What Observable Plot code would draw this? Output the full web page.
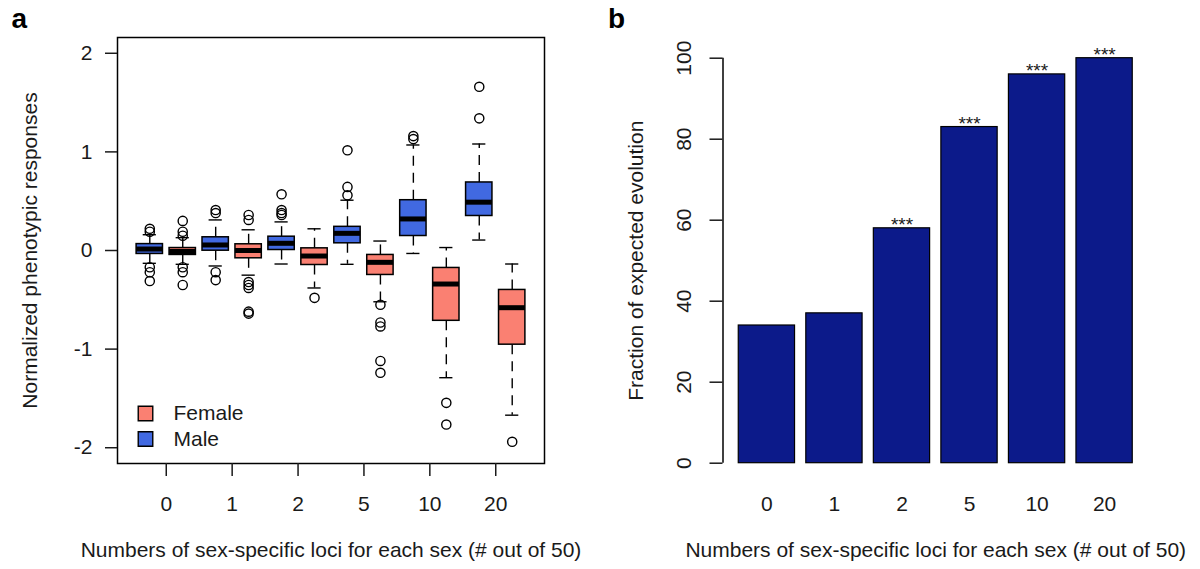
<!DOCTYPE html>
<html><head><meta charset="utf-8">
<script src="https://cdn.jsdelivr.net/npm/d3@7"></script>
<script src="https://cdn.jsdelivr.net/npm/@observablehq/plot@0.6"></script>
<style>
body{margin:0;background:#fff;}
#wrap{display:flex;width:1200px;height:569px;overflow:hidden;}
#wrap svg{flex:none;}
</style></head><body><div id="wrap"></div>
<script>
// ---------- Panel a data (box-plot summary statistics) ----------
const groups = ["0", "1", "2", "5", "10", "20"];
const sexes = ["Male", "Female"];
const boxGroup = ["0","0","1","1","2","2","5","5","10","10","20","20"];
const boxSex = ["Male","Female","Male","Female","Male","Female","Male","Female","Male","Female","Male","Female"];
const q1 =          [-0.035, -0.045, -0.002, -0.079, 0.005, -0.147, 0.073, -0.248, 0.147, -0.713, 0.35, -0.955];
const median =      [0.015, -0.01, 0.056, 0.0, 0.073, -0.056, 0.174, -0.12, 0.32, -0.34, 0.49, -0.58];
const q3 =          [0.065, 0.025, 0.134, 0.063, 0.14, 0.022, 0.24, -0.045, 0.51, -0.177, 0.69, -0.40];
const whiskerLow =  [-0.13, -0.14, -0.157, -0.25, -0.137, -0.38, -0.14, -0.52, -0.03, -1.29, 0.106, -1.67];
const whiskerHigh = [0.16, 0.13, 0.31, 0.21, 0.29, 0.22, 0.51, 0.096, 1.07, 0.03, 1.08, -0.137];
const outliers = [
  [0.19, 0.22, -0.17, -0.22, -0.31],
  [0.30, 0.19, 0.15, -0.17, -0.22, -0.35],
  [0.41, 0.38, -0.22, -0.30],
  [0.36, 0.31, -0.32, -0.35, -0.38, -0.62, -0.64],
  [0.57, 0.41, 0.38, 0.36],
  [-0.48],
  [1.016, 0.645, 0.56],
  [-0.55, -0.73, -0.77, -1.12, -1.24],
  [1.16, 1.13],
  [-1.545, -1.765],
  [1.66, 1.34],
  [-1.94]
];
const yTicksA = [-2, -1, 0, 1, 2];
const legendEntries = ["Female", "Male"];

// ---------- Panel b data ----------
const fraction = [34, 37, 58, 83, 96, 100];
const significance = ["", "", "***", "***", "***", "***"];
const yTicksB = [0, 20, 40, 60, 80, 100];

// ---------- shared style ----------
const font = "'Liberation Sans', Arial, Helvetica, sans-serif";
const ink = "#1a1a1a";
const fs = 21;
const sexColors = {domain: ["Female", "Male"], range: ["#FA8072", "#4169E1"]};

// ---------- build panel a ----------
const boxW = 0.8, capW = 0.4;
const boxes = boxGroup.map((g, i) => ({
  group: g, sex: boxSex[i],
  pos: 2 * groups.indexOf(g) + sexes.indexOf(boxSex[i]) + 1,
  q1: q1[i], med: median[i], q3: q3[i], lo: whiskerLow[i], hi: whiskerHigh[i]
}));
const outlierPts = boxes.flatMap((b, i) => outliers[i].map(v => ({pos: b.pos, value: v})));
const groupPos = groups.map((g, i) => 2 * i + 1.5);
const legendData = legendEntries.map((s, i) => ({sex: s, i}));

const whisk = {stroke: "black", strokeWidth: 1.4};
const panelA = Plot.plot({
  width: 600, height: 569,
  marginLeft: 117, marginRight: 56, marginTop: 37, marginBottom: 106,
  style: {fontFamily: font, fontSize: fs + "px", color: ink, background: "white"},
  x: {domain: [0.02, 12.98], axis: null},
  y: {domain: [-2.16, 2.16], axis: null},
  color: sexColors,
  marks: [
    Plot.ruleX(boxes, {x: "pos", y1: "q3", y2: "hi", ...whisk, strokeDasharray: "10,7"}),
    Plot.ruleX(boxes, {x: "pos", y1: "q1", y2: "lo", ...whisk, strokeDasharray: "10,7"}),
    Plot.ruleY(boxes, {y: "hi", x1: d => d.pos - capW / 2, x2: d => d.pos + capW / 2, ...whisk}),
    Plot.ruleY(boxes, {y: "lo", x1: d => d.pos - capW / 2, x2: d => d.pos + capW / 2, ...whisk}),
    Plot.rect(boxes, {x1: d => d.pos - boxW / 2, x2: d => d.pos + boxW / 2, y1: "q1", y2: "q3",
      fill: "sex", stroke: "black", strokeWidth: 1.5}),
    Plot.ruleY(boxes, {y: "med", x1: d => d.pos - boxW / 2, x2: d => d.pos + boxW / 2, stroke: "black", strokeWidth: 5}),
    Plot.dot(outlierPts, {x: "pos", y: "value", r: 4.6, stroke: "black", strokeWidth: 1.4, fill: "none"}),
    Plot.frame({stroke: "black", strokeWidth: 1.5}),
    Plot.axisY({ticks: yTicksA, tickSize: 12, tickPadding: 13, tickFormat: d => String(d),
      fontSize: fs, label: null, strokeWidth: 1.5}),
    Plot.axisX({ticks: groupPos, tickSize: 13, tickPadding: 20,
      tickFormat: d => groups[groupPos.indexOf(d)], fontSize: fs, label: null, strokeWidth: 1.5}),
    // legend
    ...legendData.map(d => Plot.dot([d], {frameAnchor: "bottom-left", dx: 28, dy: -50 + d.i * 25.5,
      symbol: "square", r: 8.2, fill: "sex", stroke: "black", strokeWidth: 1.4})),
    ...legendData.map(d => Plot.text([d], {frameAnchor: "bottom-left", dx: 56, dy: -50 + d.i * 25.5,
      text: "sex", textAnchor: "start", lineAnchor: "middle", fontSize: fs})),
    // titles
    Plot.text(["Numbers of sex-specific loci for each sex (# out of 50)"], {frameAnchor: "bottom",
      dy: 87, textAnchor: "middle", lineAnchor: "middle", fontSize: fs}),
    Plot.text(["Normalized phenotypic responses"], {frameAnchor: "left", rotate: -90, dx: -87,
      textAnchor: "middle", lineAnchor: "middle", fontSize: fs}),
    Plot.text(["a"], {frameAnchor: "top-left", dx: -106, dy: -18, textAnchor: "start",
      lineAnchor: "middle", fontSize: 28, fontWeight: "bold", fill: "black"})
  ]
});

// ---------- build panel b ----------
const barW = 1, barSpace = 0.2;
const bars = groups.map((g, i) => {
  const x1 = barSpace + i * (barW + barSpace);
  return {group: g, value: fraction[i], sig: significance[i], x1, x2: x1 + barW, xc: x1 + barW / 2};
});
const barCenters = bars.map(d => d.xc);
const xMinB = -0.08, xMaxB = 7.48;

const panelB = Plot.plot({
  width: 600, height: 569,
  marginLeft: 122.5, marginRight: 52, marginTop: 57.7, marginBottom: 106.3,
  style: {fontFamily: font, fontSize: fs + "px", color: ink, background: "white"},
  x: {domain: [xMinB, xMaxB], axis: null},
  y: {domain: [0, 100], axis: null},
  marks: [
    Plot.rect(bars, {x1: "x1", x2: "x2", y1: 0, y2: "value", fill: "#0c1a8a", stroke: "black", strokeWidth: 1.2}),
    Plot.text(bars.filter(d => d.sig), {x: "xc", y: "value", text: "sig", fontSize: 19, dy: -3,
      textAnchor: "middle", lineAnchor: "middle"}),
    Plot.ruleX([xMinB], {y1: 0, y2: 100, stroke: "black", strokeWidth: 1.5}),
    Plot.axisY({ticks: yTicksB, tickSize: 13, tickFormat: () => "", label: null, strokeWidth: 1.5}),
    Plot.text(yTicksB, {y: d => d, text: d => String(d), frameAnchor: "left", rotate: -90, dx: -38.5,
      textAnchor: "middle", lineAnchor: "middle", fontSize: fs}),
    Plot.axisX({ticks: barCenters, tickSize: 0, tickPadding: 33,
      tickFormat: d => groups[barCenters.indexOf(d)], fontSize: fs, label: null}),
    Plot.text(["Numbers of sex-specific loci for each sex (# out of 50)"], {frameAnchor: "bottom",
      dy: 87, textAnchor: "middle", lineAnchor: "middle", fontSize: fs}),
    Plot.text(["Fraction of expected evolution"], {frameAnchor: "left", rotate: -90, dx: -86.5,
      textAnchor: "middle", lineAnchor: "middle", fontSize: fs}),
    Plot.text(["b"], {frameAnchor: "top-left", dx: -115, dy: -39, textAnchor: "start",
      lineAnchor: "middle", fontSize: 28, fontWeight: "bold", fill: "black"})
  ]
});

const wrap = document.getElementById("wrap");
wrap.appendChild(panelA);
wrap.appendChild(panelB);
</script>
</body></html>
